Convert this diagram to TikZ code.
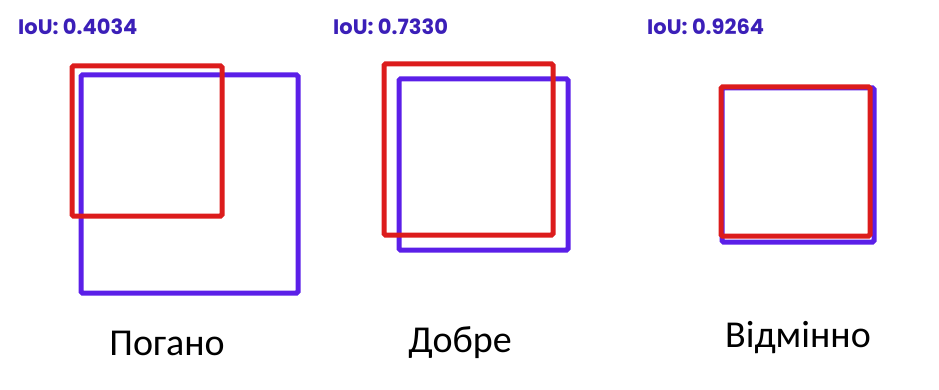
\documentclass[tikz,border=0pt]{standalone}
\usepackage{fontspec}
\setmainfont{Carlito}
\newfontfamily\roundfont{Poppins}
\usetikzlibrary{positioning}
\definecolor{boxred}{HTML}{DC1C1C}
\definecolor{boxblue}{HTML}{5B1FE8}
\definecolor{ioublue}{HTML}{3B1FB8}

\begin{document}
\begin{tikzpicture}[x=1pt, y=-1pt,
    truth/.style={boxblue, line width=5pt, rounded corners=1.5pt},
    guess/.style={boxred, line width=5pt, rounded corners=1.5pt},
    ioulabel/.style={anchor=base west, inner sep=0pt, text=ioublue, font=\roundfont\bfseries\fontsize{21}{21}\selectfont},
    verdict/.style={anchor=base, inner sep=0pt, font=\fontsize{38}{38}\selectfont}]
  \useasboundingbox (0,0) rectangle (939,390);
  % bad
  \draw[truth] (81,75) rectangle (298,293);
  \draw[guess] (72,66) rectangle (222,216);
  \node[ioulabel] (iou1) at (18,35) {IoU: 0.4034};
  \node[verdict] (bad) at (167,355) {Погано};
  % good
  \draw[truth] (399,79) rectangle (568,250);
  \draw[guess] (384,64) rectangle (553,235);
  \node[ioulabel] (iou2) at (333,35) {IoU: 0.7330};
  \node[verdict] (good) at (460,352) {Добре};
  % excellent
  \draw[truth] (722,88) rectangle (874,242);
  \draw[guess] (721,87) rectangle (870,236);
  \node[ioulabel] (iou3) at (647,35) {IoU: 0.9264};
  \node[verdict] (great) at (798,347) {Відмінно};
\end{tikzpicture}
\end{document}
